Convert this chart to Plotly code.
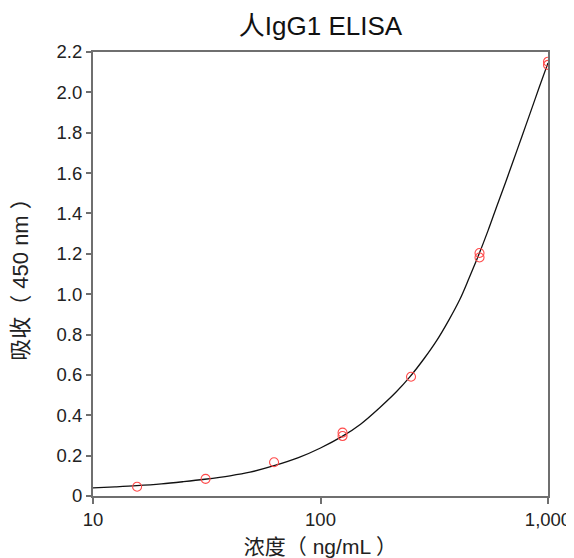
import plotly.graph_objects as go

# Measured data (concentration ng/mL, absorbance 450 nm)
conc = [15.625, 31.25, 62.5, 125, 125, 250, 500, 500, 1000, 1000]
absorb = [0.046, 0.085, 0.167, 0.314, 0.297, 0.591, 1.204, 1.182, 2.152, 2.136]

# Fitted curve
fit_x = [10, 12.5, 15.6, 20, 25, 31, 40, 49, 62.5, 80, 100, 124, 150, 183, 215, 247, 285, 324, 365, 410, 450, 494, 545, 594, 650, 705, 770, 834, 915, 1000]
fit_y = [0.040, 0.045, 0.051, 0.060, 0.071, 0.083, 0.100, 0.118, 0.150, 0.190, 0.238, 0.294, 0.356, 0.440, 0.515, 0.590, 0.680, 0.770, 0.868, 0.975, 1.080, 1.190, 1.315, 1.432, 1.552, 1.664, 1.785, 1.896, 2.025, 2.146]

x_tickvals = [10, 100, 1000]
x_ticktext = ["10", "100", "1,000"]
y_tickvals = [0, 0.2, 0.4, 0.6, 0.8, 1.0, 1.2, 1.4, 1.6, 1.8, 2.0, 2.2]
y_ticktext = ["0", "0.2", "0.4", "0.6", "0.8", "1.0", "1.2", "1.4", "1.6", "1.8", "2.0", "2.2"]

FONT = "Liberation Sans, Arial, Noto Sans CJK SC, sans-serif"
AXC = "#6f6f6f"

# The page body adds an 8px offset, so the figure is sized to keep the plot box in place.
W, H = 566, 550

fig = go.Figure()
fig.add_trace(go.Scatter(
    x=fit_x, y=fit_y, mode="lines",
    line=dict(color="#111111", width=1.3, shape="spline", smoothing=1.0),
    hoverinfo="skip", showlegend=False,
))
fig.add_trace(go.Scatter(
    x=conc, y=absorb, mode="markers",
    marker=dict(symbol="circle-open", size=9, color="#ff4a4a", line=dict(width=1.1, color="#ff4a4a")),
    showlegend=False,
))

fig.update_layout(
    width=W, height=H,
    margin=dict(l=85, r=26, t=44, b=62, autoexpand=False),
    paper_bgcolor="white", plot_bgcolor="white",
    font=dict(family=FONT, color="#222222", size=18),
    title=dict(text="人IgG1 ELISA", x=0.5, xref="paper", y=1 - 18 / H, yref="container",
               xanchor="center", yanchor="middle", automargin=False,
               font=dict(family=FONT, size=26, color="#111111")),
    xaxis=dict(
        type="log", range=[1, 3],
        tickvals=x_tickvals, ticktext=x_ticktext,
        ticks="outside", ticklen=6, tickwidth=1.5, tickcolor=AXC,
        showline=True, linecolor=AXC, linewidth=2, mirror=True,
        showgrid=False, zeroline=False, automargin=False,
        tickfont=dict(size=18.5, color="#222222"),
        title=dict(text="浓度（ ng/mL ）", font=dict(size=21, color="#222222"), standoff=10),
    ),
    yaxis=dict(
        range=[0, 2.2],
        tickvals=y_tickvals, ticktext=y_ticktext,
        ticks="outside", ticklen=5, tickwidth=1.5, tickcolor=AXC,
        showline=True, linecolor=AXC, linewidth=2, mirror=True,
        showgrid=False, zeroline=False, automargin=False,
        tickfont=dict(size=18.5, color="#222222"),
        title=dict(text="吸收（ 450 nm ）", font=dict(size=22, color="#222222"), standoff=22),
    ),
)

fig.write_html("out.html")
